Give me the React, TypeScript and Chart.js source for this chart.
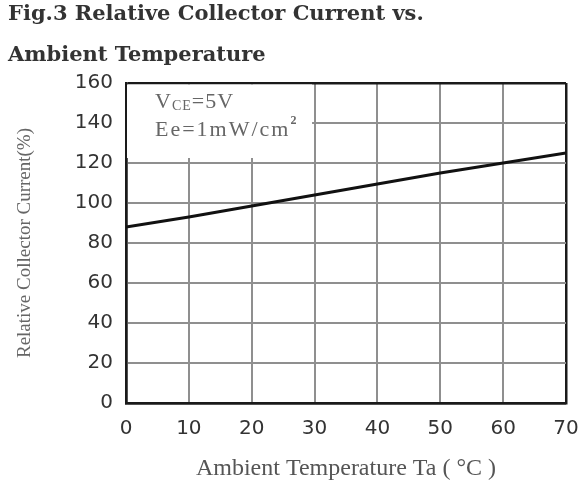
import React, { useEffect, useRef } from "react";
import { Chart, registerables } from "chart.js";

Chart.register(...registerables);

const titleLines = ["Fig.3 Relative Collector Current vs.", "Ambient Temperature"];
const xTitle = "Ambient Temperature Ta ( °C )";
const yTitle = "Relative Collector Current(%)";
const temperatures = [0, 10, 20, 30, 40, 50, 60, 70];
const relativeCurrent = [88, 93, 98.5, 104, 109.5, 115, 120, 125];
const xTicks = [0, 10, 20, 30, 40, 50, 60, 70];
const yTicks = [0, 20, 40, 60, 80, 100, 120, 140, 160];
const noteLine1 = ["V", "CE", "=5V"];
const noteLine2 = ["Ee=1mW/cm", "2"];

const notePlugin = {
  id: "noteBox",
  beforeDatasetsDraw(chart: any) {
    const { ctx, chartArea, scales } = chart;
    const x = scales.x;
    const y = scales.y;
    const left = x.getPixelForValue(0) + 1;
    const right = x.getPixelForValue(29.6);
    const top = y.getPixelForValue(160) + 1.5;
    const bottom = y.getPixelForValue(122.5);
    ctx.save();
    ctx.fillStyle = "#ffffff";
    ctx.fillRect(left, top, right - left, bottom - top);
    ctx.fillStyle = "#666666";
    ctx.textBaseline = "middle";
    ctx.textAlign = "left";
    (ctx as any).letterSpacing = "1px";
    let tx = chartArea.left + 29;
    const y1 = chartArea.top + 19;
    ctx.font = '22px "Liberation Serif"';
    ctx.fillText(noteLine1[0], tx, y1);
    tx += ctx.measureText(noteLine1[0]).width;
    ctx.font = '14px "Liberation Serif"';
    ctx.fillText(noteLine1[1], tx, y1 + 4);
    tx += ctx.measureText(noteLine1[1]).width;
    ctx.font = '22px "Liberation Serif"';
    ctx.fillText(noteLine1[2], tx, y1);
    (ctx as any).letterSpacing = "2px";
    let tx2 = chartArea.left + 29;
    const y2 = chartArea.top + 47;
    ctx.fillText(noteLine2[0], tx2, y2);
    tx2 += ctx.measureText(noteLine2[0]).width;
    ctx.font = 'bold 12px "Liberation Serif"';
    ctx.fillText(noteLine2[1], tx2, y2 - 9);
    ctx.restore();
  },
};

const edgeColor = (v: number, lo: number, hi: number) =>
  v === lo || v === hi ? "#1a1a1a" : "#8f8f8f";

export default function App() {
  const ref = useRef<HTMLCanvasElement>(null);
  useEffect(() => {
    if (!ref.current) return;
    const chart = new Chart(ref.current, {
      type: "line",
      data: {
        datasets: [
          {
            data: temperatures.map((t, i) => ({ x: t, y: relativeCurrent[i] })),
            borderColor: "#111111",
            borderWidth: 3,
            pointRadius: 0,
            tension: 0,
          },
        ],
      },
      plugins: [notePlugin],
      options: {
        responsive: false,
        animation: false,
        layout: { padding: { left: 8, right: 21, top: 0, bottom: 0 } },
        plugins: {
          legend: { display: false },
          tooltip: { enabled: false },
          title: {
            display: true,
            text: titleLines,
            align: "start",
            color: "#333333",
            font: { family: '"DejaVu Serif"', size: 21, weight: "bold", lineHeight: "41px" },
            padding: { top: -6, bottom: 7 },
          },
        },
        scales: {
          x: {
            type: "linear",
            min: 0,
            max: 70,
            afterBuildTicks: (s: any) => {
              s.ticks = xTicks.map((v) => ({ value: v }));
            },
            afterFit: (s: any) => {
              s.height = 81;
              s.paddingLeft = 0;
              s.paddingRight = 0;
            },
            grid: {
              drawTicks: false,
              color: (c: any) => edgeColor(c.tick.value, 0, 70),
              lineWidth: (c: any) => (c.tick.value === 70 || c.tick.value === 0 ? 2.5 : 2),
            },
            border: { color: "#1a1a1a", width: 2.5 },
            ticks: {
              color: "#333333",
              padding: 14,
              maxRotation: 0,
              font: { family: '"DejaVu Sans"', size: 20 },
            },
            title: {
              display: true,
              text: xTitle,
              color: "#555555",
              font: { family: '"Liberation Serif"', size: 24 },
              padding: { top: 0, bottom: 1 },
            },
          },
          y: {
            type: "linear",
            min: 0,
            max: 160,
            afterBuildTicks: (s: any) => {
              s.ticks = yTicks.map((v) => ({ value: v }));
            },
            afterFit: (s: any) => {
              s.width = 118;
              s.paddingTop = 0;
              s.paddingBottom = 0;
            },
            grid: {
              drawTicks: false,
              color: (c: any) => edgeColor(c.tick.value, 0, 160),
              lineWidth: (c: any) => (c.tick.value === 160 || c.tick.value === 0 ? 2.5 : 2),
            },
            border: { color: "#1a1a1a", width: 2.5 },
            ticks: {
              color: "#333333",
              padding: 13,
              font: { family: '"DejaVu Sans"', size: 20 },
            },
            title: {
              display: true,
              text: yTitle,
              color: "#666666",
              font: { family: '"Liberation Serif"', size: 19 },
              padding: { top: 6, bottom: 0 },
            },
          },
        },
      },
    });
    return () => chart.destroy();
  }, []);
  return (
    <canvas
      ref={ref}
      width={587}
      height={484}
      style={{ position: "absolute", left: 0, top: 0, display: "block" }}
    />
  );
}
